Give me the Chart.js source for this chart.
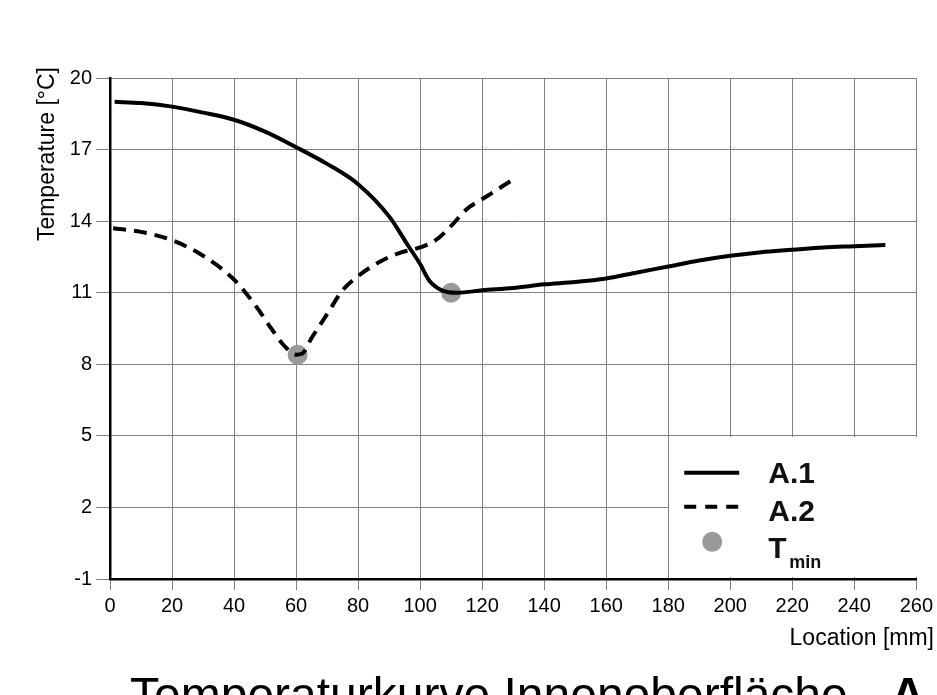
<!DOCTYPE html>
<html>
<head>
<meta charset="utf-8">
<script src="https://cdn.jsdelivr.net/npm/chart.js@4.4.0/dist/chart.umd.min.js"></script>
<style>
  html, body { margin: 0; padding: 0; background: #fff; overflow: hidden; }
  #wrap { width: 937px; height: 720px; }
</style>
</head>
<body>
<div id="wrap"><canvas id="tempChart" width="937" height="720"></canvas></div>
<script>
// Curve A.1 (solid)
const a1X = [1.5, 10, 20, 30, 40, 50, 60, 70, 80, 90, 96, 100, 103, 107, 112, 120, 130, 140, 150, 160, 170, 180, 190, 200, 210, 220, 230, 240, 250];
const a1Y = [19.0, 18.95, 18.8, 18.55, 18.25, 17.75, 17.1, 16.4, 15.55, 14.2, 13.0, 12.2, 11.5, 11.1, 11.0, 11.1, 11.2, 11.35, 11.45, 11.6, 11.85, 12.1, 12.35, 12.55, 12.7, 12.8, 12.9, 12.95, 13.0];

// Curve A.2 (dashed)
const a2X = [1, 10, 20, 30, 40, 47, 52, 56, 60, 62, 65, 70, 75, 80, 87, 93, 100, 105, 110, 115, 121, 130];
const a2Y = [13.7, 13.55, 13.2, 12.55, 11.55, 10.45, 9.5, 8.8, 8.4, 8.45, 9.1, 10.1, 11.1, 11.7, 12.3, 12.65, 12.9, 13.2, 13.8, 14.5, 15.0, 15.75];

// Minimum temperature points
const tminX = [60.5, 110];
const tminY = [8.4, 11.0];

const xTicks = [0, 20, 40, 60, 80, 100, 120, 140, 160, 180, 200, 220, 240, 260];
const yTicks = [-1, 2, 5, 8, 11, 14, 17, 20];

const legendLabels = ['A.1', 'A.2', 'T'];
const yTitle = 'Temperature [°C]';
const xTitle = 'Location [mm]';
const chartTitle = 'Temperaturkurve Innenoberfläche';

const toPoints = (xs, ys) => xs.map((x, i) => ({ x: x, y: ys[i] }));

// white legend box + legend + titles
const overlay = {
  id: 'overlay',
  beforeDatasetsDraw(chart) {
    const { ctx, scales: { x, y } } = chart;
    const left = x.getPixelForValue(180) + 1;
    const right = x.getPixelForValue(260) + 2;
    const top = y.getPixelForValue(5) + 1;
    const bottom = y.getPixelForValue(-1) - 2;
    ctx.save();
    ctx.fillStyle = '#fff';
    ctx.fillRect(left, top, right - left, bottom - top);

    // legend samples
    ctx.strokeStyle = '#000';
    ctx.lineWidth = 4;
    ctx.beginPath();
    ctx.moveTo(left + 15, top + 36);
    ctx.lineTo(left + 70, top + 36);
    ctx.stroke();
    ctx.setLineDash([12, 9]);
    ctx.beginPath();
    ctx.moveTo(left + 15, top + 70);
    ctx.lineTo(left + 70, top + 70);
    ctx.stroke();
    ctx.setLineDash([]);
    ctx.fillStyle = '#999';
    ctx.beginPath();
    ctx.arc(left + 43, top + 105, 10, 0, Math.PI * 2);
    ctx.fill();

    ctx.fillStyle = '#111';
    ctx.font = 'bold 30px "Liberation Sans", Arial, sans-serif';
    ctx.textAlign = 'left';
    ctx.textBaseline = 'alphabetic';
    ctx.fillText(legendLabels[0], left + 99, top + 46);
    ctx.fillText(legendLabels[1], left + 99, top + 84);
    ctx.fillText(legendLabels[2], left + 99, top + 121);
    ctx.font = 'bold 18px "Liberation Sans", Arial, sans-serif';
    ctx.fillText('min', left + 120, top + 131);
    ctx.restore();
  },
  afterDraw(chart) {
    const { ctx } = chart;
    ctx.save();
    ctx.fillStyle = '#000';

    // y axis title
    ctx.font = '23px "Liberation Sans", Arial, sans-serif';
    ctx.translate(54, 67);
    ctx.rotate(-Math.PI / 2);
    ctx.textAlign = 'right';
    ctx.textBaseline = 'alphabetic';
    ctx.fillText(yTitle, 0, 0);
    ctx.setTransform(1, 0, 0, 1, 0, 0);

    // x axis title
    ctx.textAlign = 'right';
    ctx.fillText(xTitle, 934, 645);

    // main title, cut at the bottom edge
    ctx.textAlign = 'left';
    ctx.font = '48px "Liberation Sans", Arial, sans-serif';
    const w1 = ctx.measureText(chartTitle + ' ').width;
    ctx.fillText(chartTitle + ' ', 130, 711);
    ctx.fillStyle = '#999';
    ctx.fillText('-', 130 + w1, 711);
    const w2 = ctx.measureText('- ').width;
    ctx.fillStyle = '#000';
    ctx.font = 'bold 48px "Liberation Sans", Arial, sans-serif';
    ctx.fillText('A', 130 + w1 + w2, 711);
    ctx.restore();
  }
};

new Chart(document.getElementById('tempChart').getContext('2d'), {
  type: 'line',
  data: {
    datasets: [{
      label: 'A.1',
      data: toPoints(a1X, a1Y),
      borderColor: '#000',
      borderWidth: 4,
      pointRadius: 0,
      fill: false,
      cubicInterpolationMode: 'monotone'
    }, {
      label: 'A.2',
      data: toPoints(a2X, a2Y),
      borderColor: '#000',
      borderWidth: 4,
      borderDash: [13, 8],
      pointRadius: 0,
      fill: false,
      cubicInterpolationMode: 'monotone'
    }, {
      label: 'Tmin',
      data: toPoints(tminX, tminY),
      showLine: false,
      pointRadius: 10,
      pointBorderWidth: 0,
      pointBackgroundColor: '#999',
      borderColor: '#999'
    }]
  },
  options: {
    responsive: false,
    animation: false,
    events: [],
    layout: { padding: { top: 78, right: 20, left: 0, bottom: 101 } },
    plugins: {
      legend: { display: false },
      tooltip: { enabled: false },
      title: { display: false }
    },
    scales: {
      x: {
        type: 'linear',
        min: 0,
        max: 260,
        afterBuildTicks: scale => { scale.ticks = xTicks.map(v => ({ value: v })); },
        afterFit: scale => { scale.height = 40; },
        grid: { color: '#808080', lineWidth: 1, tickLength: 11, tickColor: '#808080' },
        border: { color: '#000', width: 2.5 },
        ticks: {
          color: '#000',
          padding: 4,
          maxRotation: 0,
          autoSkip: false,
          font: { family: '"Liberation Sans", Arial, sans-serif', size: 20 }
        }
      },
      y: {
        type: 'linear',
        min: -1,
        max: 20,
        afterBuildTicks: scale => { scale.ticks = yTicks.map(v => ({ value: v })); },
        afterFit: scale => { scale.width = 110; },
        grid: { color: '#808080', lineWidth: 1, tickLength: 14, tickColor: '#808080' },
        border: { color: '#000', width: 2.5 },
        ticks: {
          color: '#000',
          padding: 4,
          autoSkip: false,
          font: { family: '"Liberation Sans", Arial, sans-serif', size: 20 }
        }
      }
    }
  },
  plugins: [overlay]
});
</script>
</body>
</html>
